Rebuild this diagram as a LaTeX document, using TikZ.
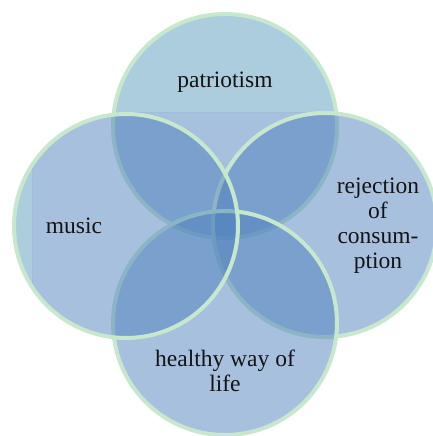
\documentclass[tikz,border=0pt]{standalone}
\usepackage{fontspec}
\setmainfont{Liberation Serif}
\definecolor{cfill}{RGB}{79,129,189}
\definecolor{ctint}{RGB}{87,155,189}
\definecolor{cline}{RGB}{200,232,206}
\newcommand{\vcircle}[1]{%
  \begin{scope}
    \clip (32,112) rectangle (460,460);
    \fill[cfill, fill opacity=0.5] (#1) circle (112);
  \end{scope}
  \begin{scope}[even odd rule]
    \clip (-20,-20) rectangle (470,470) (32,112) rectangle (460,460);
    \fill[ctint, fill opacity=0.5] (#1) circle (112);
  \end{scope}
  \draw[cline, line width=4pt] (#1) circle (112);
}
\begin{document}
\begin{tikzpicture}[x=1pt,y=-1pt,
  lbl/.style={font=\fontsize{23.5}{25}\selectfont, text=black!92, align=center, anchor=base, inner sep=0pt}]
\useasboundingbox (0,0) rectangle (433,436);
\coordinate (ctop) at (225,126);
\coordinate (cright) at (325,225);
\coordinate (cbottom) at (225,323);
\coordinate (cleft) at (126,226);
\vcircle{ctop}
\vcircle{cright}
\vcircle{cbottom}
\vcircle{cleft}
\node[lbl] (patr) at (225,88) {patriotism};
\node[lbl] (music) at (74,233) {music};
\node[lbl] (rej) at (378,268) {rejection\\of\\consum-\\ption};
\node[lbl] (health) at (225,391) {healthy way of\\life};
\end{tikzpicture}
\end{document}
